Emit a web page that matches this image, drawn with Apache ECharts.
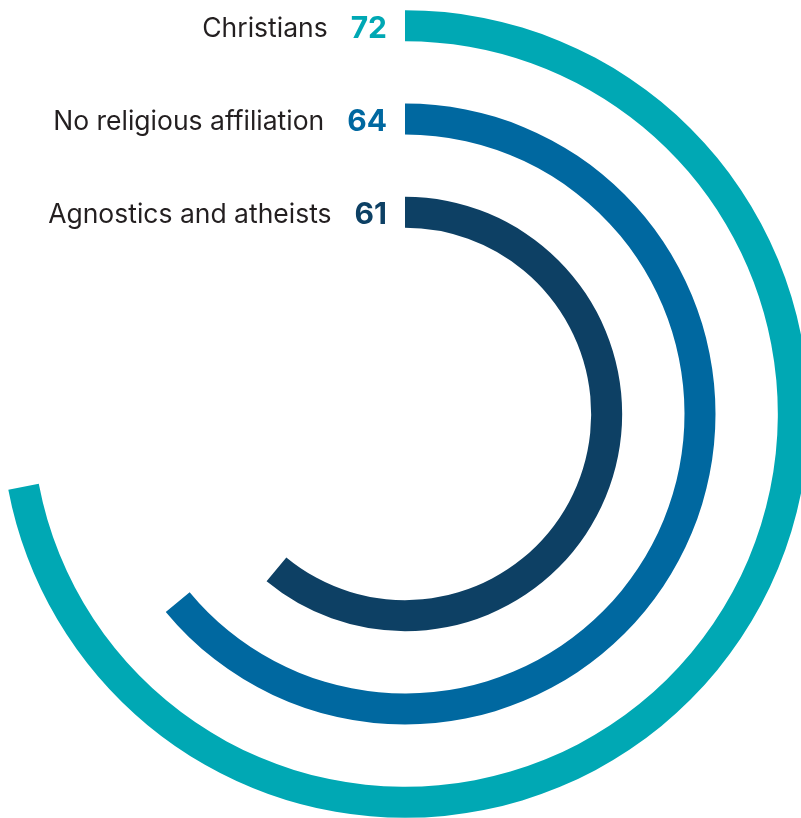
<!DOCTYPE html>
<html>
<head>
<meta charset="utf-8">
<style>
  html, body { margin: 0; padding: 0; background: #ffffff; }
  #chart { width: 801px; height: 818px; }
</style>
<script src="https://cdn.jsdelivr.net/npm/echarts@6/dist/echarts.min.js"></script>
</head>
<body>
<div id="chart"></div>
<script>
// inner ring first, outer ring last
var categories = ['Agnostics and atheists', 'No religious affiliation', 'Christians'];
var values = [61, 64, 72];
var colors = ['#0d4064', '#0068a0', '#00a8b4'];

(function() {
  var chart = echarts.init(document.getElementById('chart'), null, { renderer: 'canvas' });

  var rich = {
    n: { fontFamily: 'Inter', fontSize: 26.5, color: '#231f20', padding: [6, 23, 0, 0] }
  };
  colors.forEach(function(c, i) {
    rich['v' + i] = { fontFamily: 'Inter', fontSize: 30, fontWeight: 'bold', color: c, padding: [6, 0, 0, 0] };
  });

  chart.setOption({
    animation: false,
    polar: {
      center: [405, 414],
      radius: [155, 435]
    },
    angleAxis: {
      type: 'value',
      min: 0,
      max: 100,
      startAngle: 90,
      clockwise: true,
      axisLine: { show: false },
      axisTick: { show: false },
      axisLabel: { show: false },
      splitLine: { show: false }
    },
    radiusAxis: {
      type: 'category',
      data: categories,
      axisLine: { show: false },
      axisTick: { show: false },
      splitLine: { show: false },
      axisLabel: {
        interval: 0,
        margin: 18,
        formatter: function(value, idx) {
          return '{n|' + value + '}{v' + idx + '|' + values[idx] + '}';
        },
        rich: rich
      }
    },
    series: [{
      type: 'bar',
      coordinateSystem: 'polar',
      barWidth: 31,
      data: values.map(function(v, i) {
        return { value: v, itemStyle: { color: colors[i] } };
      })
    }]
  });
  window.addEventListener('resize', function() { chart.resize(); });
})();
</script>
</body>
</html>
